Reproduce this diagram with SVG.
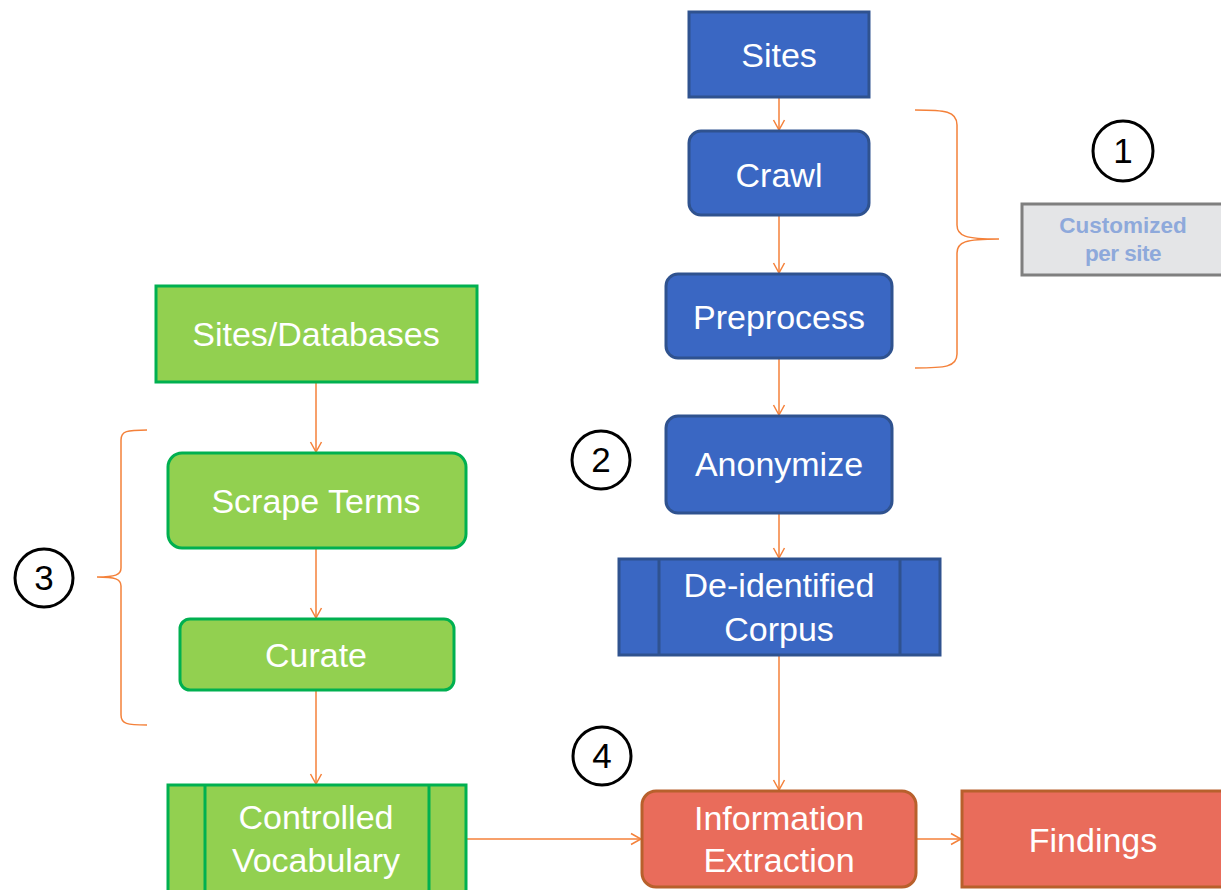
<svg xmlns="http://www.w3.org/2000/svg" width="1221" height="890" viewBox="0 0 1221 890">
<defs>
<marker id="ah" markerWidth="14" markerHeight="14" refX="11" refY="7" orient="auto" markerUnits="userSpaceOnUse">
<path d="M1,1.5 L11,7 L1,12.5" fill="none" stroke="#F4813A" stroke-width="1.5"/>
</marker>
<style>
.blue{fill:#3A67C3;stroke:#2F528F;stroke-width:3}
.green{fill:#92D050;stroke:#00B050;stroke-width:3}
.red{fill:#E96C5B;stroke:#B8602C;stroke-width:3}
.t{font-family:"Liberation Sans",Arial,sans-serif;font-size:34px;fill:#fff;text-anchor:middle}
.c{font-family:"Liberation Sans",Arial,sans-serif;font-size:35px;fill:#000;text-anchor:middle}
.ring{fill:#fff;stroke:#000;stroke-width:3}
.con{fill:none;stroke:#F4813A;stroke-width:1.5}
.br{fill:none;stroke:#F4813A;stroke-width:1.5}
</style>
</defs>
<rect width="1221" height="890" fill="#fff"/>
<g id="connectors">
<line class="con" x1="779" y1="98" x2="779" y2="130" marker-end="url(#ah)"/>
<line class="con" x1="779" y1="216" x2="779" y2="273" marker-end="url(#ah)"/>
<line class="con" x1="779" y1="359" x2="779" y2="415" marker-end="url(#ah)"/>
<line class="con" x1="779" y1="514" x2="779" y2="558" marker-end="url(#ah)"/>
<line class="con" x1="779" y1="656" x2="779" y2="790" marker-end="url(#ah)"/>
<line class="con" x1="316" y1="383" x2="316" y2="452" marker-end="url(#ah)"/>
<line class="con" x1="316" y1="549" x2="316" y2="618" marker-end="url(#ah)"/>
<line class="con" x1="316" y1="691" x2="316" y2="784" marker-end="url(#ah)"/>
<line class="con" x1="467" y1="839" x2="641" y2="839" marker-end="url(#ah)"/>
<line class="con" x1="917" y1="839" x2="961" y2="839" marker-end="url(#ah)"/>
</g>
<g id="sites"><rect class="blue" x="689" y="12" width="180" height="85"/><text class="t" x="779" y="67">Sites</text></g>
<g id="crawl"><rect class="blue" x="689" y="131" width="180" height="84" rx="12"/><text class="t" x="779" y="187">Crawl</text></g>
<g id="preprocess"><rect class="blue" x="666" y="274" width="226" height="84" rx="12"/><text class="t" x="779" y="329">Preprocess</text></g>
<g id="anonymize"><rect class="blue" x="666" y="416" width="226" height="97" rx="12"/><text class="t" x="779" y="476">Anonymize</text></g>
<g id="corpus"><rect class="blue" x="619" y="559" width="321" height="96"/><line x1="659" y1="559" x2="659" y2="655" stroke="#2F528F" stroke-width="3"/><line x1="900" y1="559" x2="900" y2="655" stroke="#2F528F" stroke-width="3"/><text class="t" x="779" y="597">De-identified</text><text class="t" x="779" y="641">Corpus</text></g>
<g id="sitesdb"><rect class="green" x="156" y="286" width="321" height="96"/><text class="t" x="316" y="346">Sites/Databases</text></g>
<g id="scrape"><rect class="green" x="168" y="453" width="298" height="95" rx="14"/><text class="t" x="316" y="513">Scrape Terms</text></g>
<g id="curate"><rect class="green" x="180" y="619" width="274" height="71" rx="10"/><text class="t" x="316" y="667">Curate</text></g>
<g id="vocab"><rect class="green" x="168" y="785" width="298" height="110"/><line x1="205" y1="785" x2="205" y2="890" stroke="#00B050" stroke-width="3"/><line x1="429" y1="785" x2="429" y2="890" stroke="#00B050" stroke-width="3"/><text class="t" x="316" y="829">Controlled</text><text class="t" x="316" y="872">Vocabulary</text></g>
<g id="extraction"><rect class="red" x="642" y="791" width="274" height="96" rx="14"/><text class="t" x="779" y="830">Information</text><text class="t" x="779" y="872">Extraction</text></g>
<g id="findings"><rect class="red" x="962" y="791" width="265" height="96"/><text class="t" x="1093" y="852">Findings</text></g>
<g id="bracket1"><path class="br" d="M915,110 C945,110 957,111 957,125 L957,225 C957,236 965,239 999,239 C965,239 957,242 957,253 L957,354 C957,367 945,368 915,368"/></g>
<g id="bracket3"><path class="br" d="M147,430 C127,430 121,431 121,440 L121,568 C121,575 115,577 97,577 C115,577 121,579 121,586 L121,715 C121,724 127,725 147,725"/></g>
<g id="custom"><rect x="1022" y="204" width="210" height="71" fill="#E4E5E7" stroke="#7F7F7F" stroke-width="3"/><text x="1123" y="233" font-family="Liberation Sans,Arial,sans-serif" font-size="22.5" font-weight="bold" fill="#8EA9DB" text-anchor="middle">Customized</text><text x="1123" y="261" font-family="Liberation Sans,Arial,sans-serif" font-size="22.5" font-weight="bold" fill="#8EA9DB" text-anchor="middle" letter-spacing="-0.5">per site</text></g>
<g id="n1"><circle class="ring" cx="1123" cy="151" r="30"/><text class="c" x="1123" y="163">1</text></g>
<g id="n2"><circle class="ring" cx="601" cy="460" r="29"/><text class="c" x="601" y="472">2</text></g>
<g id="n3"><circle class="ring" cx="44" cy="578" r="29"/><text class="c" x="44" y="590">3</text></g>
<g id="n4"><circle class="ring" cx="602" cy="756" r="29"/><text class="c" x="602" y="768">4</text></g>
</svg>
